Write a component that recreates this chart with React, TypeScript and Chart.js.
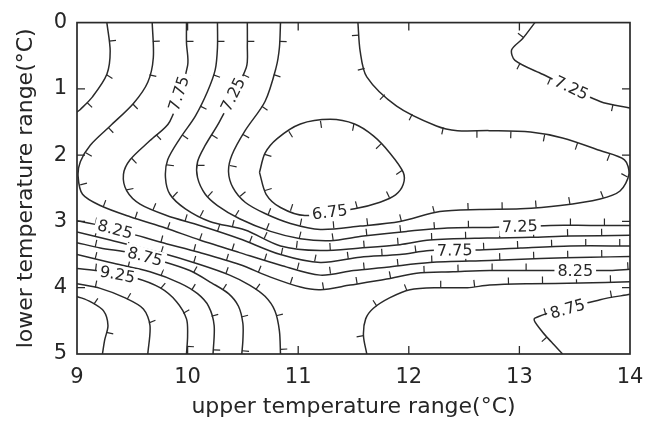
import React, { useEffect, useRef } from 'react';
import { Chart, registerables } from 'chart.js';

Chart.register(...registerables);

// ---------- data ----------
const xTickValues = [9, 10, 11, 12, 13, 14];
const yTickValues = [0, 1, 2, 3, 4, 5];
const xTitle = 'upper temperature range(°C)';
const yTitle = 'lower temperature range(°C)';

// contour lines: [upper temperature, lower temperature]
const top825 = [[9.27, 0], [9.30, 0.43], [9.27, 0.78], [9.14, 1.12], [9.03, 1.31], [9.0, 1.35]];
const nose800 = [[9.68, 0], [9.69, 0.53], [9.64, 0.9], [9.51, 1.22], [9.3, 1.56], [9.12, 1.85], [9.03, 2.1], [9.01, 2.32], [9.05, 2.59], [9.21, 2.76], [9.48, 2.93], [9.8, 3.1], [10.11, 3.28], [10.47, 3.47], [10.84, 3.66], [11.2, 3.81], [11.5, 3.74], [11.8, 3.69], [12.19, 3.62], [12.73, 3.59], [13.19, 3.56], [13.64, 3.54], [14, 3.53]];
const nose775 = [[9.99, 0], [9.99, 0.31], [10.0, 0.65], [9.84, 1.49], [9.66, 1.78], [9.48, 2.07], [9.42, 2.29], [9.45, 2.54], [9.57, 2.74], [9.81, 2.91], [10.11, 3.06], [10.47, 3.26], [10.84, 3.5], [11.2, 3.62], [11.56, 3.54], [11.92, 3.5], [12.19, 3.44], [12.64, 3.43], [13.01, 3.4], [13.46, 3.37], [14, 3.37]];
const nose750 = [[10.27, 0], [10.27, 0.38], [10.25, 0.71], [10.18, 1.04], [10.07, 1.41], [9.93, 1.75], [9.82, 2.07], [9.8, 2.34], [9.84, 2.59], [9.98, 2.81], [10.2, 3.0], [10.52, 3.13], [10.84, 3.37], [11.2, 3.44], [11.56, 3.4], [11.92, 3.35], [12.19, 3.28], [12.71, 3.25], [13.1, 3.24], [13.46, 3.22], [14, 3.21]];
const nose725 = [[10.54, 0], [10.54, 0.35], [10.53, 0.68], [10.29, 1.49], [10.16, 1.85], [10.09, 2.1], [10.09, 2.34], [10.16, 2.59], [10.27, 2.76], [10.47, 2.96], [10.75, 3.15], [11.02, 3.26], [11.29, 3.29], [11.59, 3.22], [11.98, 3.15], [12.35, 3.1], [12.73, 3.09], [13.28, 3.06], [13.64, 3.06], [14, 3.06]];
const channel700 = [[10.84, 0], [10.83, 0.38], [10.8, 0.68], [10.7, 1.19], [10.52, 1.63], [10.4, 2.0], [10.37, 2.25], [10.41, 2.49], [10.52, 2.71], [10.7, 2.88], [10.93, 3.03], [11.2, 3.12], [11.56, 3.07], [11.92, 3.0], [12.28, 2.85], [12.64, 2.82], [13.01, 2.81], [13.37, 2.76], [13.73, 2.66], [13.91, 2.54], [13.99, 2.29], [13.95, 2.07], [13.73, 1.93], [13.39, 1.74], [13.1, 1.65], [12.73, 1.63], [12.44, 1.63], [12.25, 1.56], [11.89, 1.26], [11.62, 0.82], [11.56, 0.43], [11.54, 0]];
const ring675 = [[10.65, 2.26], [10.7, 1.97], [10.81, 1.75], [11.02, 1.53], [11.29, 1.46], [11.51, 1.53], [11.68, 1.71], [11.83, 1.97], [11.95, 2.26], [11.95, 2.44], [11.88, 2.6], [11.74, 2.71], [11.51, 2.81], [11.06, 2.91], [10.84, 2.79], [10.71, 2.59], [10.65, 2.26]];
const band825 = [[9.0, 2.99], [9.21, 3.06], [9.48, 3.18], [9.75, 3.31], [10.11, 3.47], [10.47, 3.65], [10.75, 3.84], [11.02, 3.99], [11.2, 4.03], [11.47, 3.96], [11.8, 3.87], [12.07, 3.78], [12.4, 3.76], [12.73, 3.74], [13.19, 3.74], [13.82, 3.74], [14, 3.72]];
const left850 = [[9.0, 3.16], [9.3, 3.28], [9.75, 3.47], [10.11, 3.65], [10.38, 3.81], [10.56, 3.96], [10.7, 4.13], [10.79, 4.35], [10.83, 4.65], [10.84, 5]];
const right850 = [[11.62, 5], [11.59, 4.72], [11.61, 4.47], [11.68, 4.31], [11.83, 4.15], [12.01, 4.03], [12.28, 4.0], [12.53, 4.0], [12.73, 3.96], [13.1, 3.94], [13.55, 3.93], [14, 3.91]];
const left875 = [[9.0, 3.32], [9.21, 3.4], [9.48, 3.47], [9.75, 3.59], [10.02, 3.74], [10.22, 3.93], [10.37, 4.09], [10.46, 4.28], [10.5, 4.54], [10.5, 4.79], [10.49, 5]];
const right875 = [[14, 4.1], [13.73, 4.18], [13.14, 4.46], [13.2, 4.65], [13.29, 4.82], [13.39, 5]];
const arc900 = [[9.0, 3.5], [9.3, 3.62], [9.66, 3.76], [9.93, 3.93], [10.09, 4.09], [10.19, 4.28], [10.24, 4.57], [10.23, 5]];
const arc925 = [[9.0, 3.71], [9.21, 3.75], [9.52, 3.85], [9.75, 4.0], [9.9, 4.21], [9.99, 4.47], [10.0, 4.72], [9.99, 5]];
const arc950 = [[9.0, 3.94], [9.21, 4.01], [9.43, 4.15], [9.6, 4.32], [9.66, 4.57], [9.64, 5]];
const arc975 = [[9.0, 4.13], [9.12, 4.21], [9.24, 4.35], [9.28, 4.57], [9.25, 4.79], [9.23, 5]];
const corner725 = [[13.14, 0], [13.03, 0.24], [12.93, 0.41], [12.96, 0.57], [13.21, 0.78], [13.73, 1.19], [14, 1.29]];

const contourNames = ['top825', 'nose800', 'nose775', 'nose750', 'nose725', 'channel700', 'ring675', 'band825', 'left850', 'right850', 'left875', 'right875', 'arc900', 'arc925', 'arc950', 'arc975', 'corner725'];
const contourLevels = [8.25, 8.0, 7.75, 7.5, 7.25, 7.0, 6.75, 8.25, 8.5, 8.5, 8.75, 8.75, 9.0, 9.25, 9.5, 9.75, 7.25];
const contourPoints = [top825, nose800, nose775, nose750, nose725, channel700, ring675, band825, left850, right850, left875, right875, arc900, arc925, arc950, arc975, corner725];

// which contour / segment carries an inline level label
const labelContours = ['nose775', 'nose775', 'nose725', 'nose725', 'ring675', 'band825', 'band825', 'left875', 'arc925', 'right875', 'corner725'];
const labelSegments = [2, 16, 2, 16, 12, 1, 14, 2, 1, 1, 4];

// ---------- style ----------
const LINE_COLOR = '#2a2a2a';
const TEXT_COLOR = '#262626';
const FONT = '"DejaVu Sans", "Liberation Sans", sans-serif';
const TICK_SIDE: Record<string, number> = {
  top825: -1, nose800: -1, nose775: -1, nose750: -1, nose725: -1, channel700: -1,
  ring675: 1, band825: -1, left850: -1, right850: -1, left875: -1, right875: 1,
  arc900: -1, arc925: -1, arc950: -1, arc975: -1, corner725: 1,
};
const HATCH_SPACING = 34;
const HATCH_LEN = 7;
const LABEL_SIZE = 16;

const decorPlugin = {
  id: 'contourDecor',
  afterDatasetsDraw(chart: any) {
    const ctx = chart.ctx as CanvasRenderingContext2D;
    const xs = chart.scales.x;
    const ys = chart.scales.y;
    const a = chart.chartArea;
    const toPx = (p: number[]) => [xs.getPixelForValue(p[0]), ys.getPixelForValue(p[1])];

    ctx.save();
    ctx.beginPath();
    ctx.rect(a.left, a.top, a.right - a.left, a.bottom - a.top);
    ctx.clip();
    ctx.strokeStyle = LINE_COLOR;
    ctx.lineWidth = 1.2;
    contourNames.forEach((name, ci) => {
      const side = TICK_SIDE[name] || 1;
      const px = contourPoints[ci].map(toPx);
      let acc = 0;
      let next = HATCH_SPACING * 0.55;
      for (let i = 0; i < px.length - 1; i++) {
        const [x0, y0] = px[i];
        const [x1, y1] = px[i + 1];
        const L = Math.hypot(x1 - x0, y1 - y0);
        if (L === 0) continue;
        const tx = (x1 - x0) / L;
        const ty = (y1 - y0) / L;
        const nx = -ty * side;
        const ny = tx * side;
        while (next <= acc + L) {
          const f = (next - acc) / L;
          const bx = x0 + (x1 - x0) * f;
          const by = y0 + (y1 - y0) * f;
          ctx.beginPath();
          ctx.moveTo(bx, by);
          ctx.lineTo(bx + nx * HATCH_LEN, by + ny * HATCH_LEN);
          ctx.stroke();
          next += HATCH_SPACING;
        }
        acc += L;
      }
    });

    // inline labels
    ctx.font = `${LABEL_SIZE}px ${FONT}`;
    ctx.textAlign = 'center';
    ctx.textBaseline = 'middle';
    labelContours.forEach((name, li) => {
      const ci = contourNames.indexOf(name);
      const seg = labelSegments[li];
      const pts = contourPoints[ci];
      const [x0, y0] = toPx(pts[seg]);
      const [x1, y1] = toPx(pts[seg + 1]);
      let ang = Math.atan2(y1 - y0, x1 - x0);
      if (ang > Math.PI / 2) ang -= Math.PI;
      if (ang < -Math.PI / 2) ang += Math.PI;
      const text = contourLevels[ci].toFixed(2);
      const w = ctx.measureText(text).width;
      ctx.save();
      ctx.translate((x0 + x1) / 2, (y0 + y1) / 2);
      ctx.rotate(ang);
      ctx.fillStyle = '#ffffff';
      ctx.fillRect(-w / 2 - 3, -LABEL_SIZE * 0.55, w + 6, LABEL_SIZE * 1.1);
      ctx.fillStyle = TEXT_COLOR;
      ctx.fillText(text, 0, 1);
      ctx.restore();
    });
    ctx.restore();

    // frame and inward axis ticks
    ctx.save();
    ctx.strokeStyle = LINE_COLOR;
    ctx.lineWidth = 1.7;
    ctx.strokeRect(a.left, a.top, a.right - a.left, a.bottom - a.top);
    ctx.lineWidth = 1.3;
    const T = 8;
    xTickValues.slice(1, -1).forEach((v) => {
      const x = xs.getPixelForValue(v);
      ctx.beginPath();
      ctx.moveTo(x, a.bottom); ctx.lineTo(x, a.bottom - T);
      ctx.moveTo(x, a.top); ctx.lineTo(x, a.top + T);
      ctx.stroke();
    });
    yTickValues.slice(1, -1).forEach((v) => {
      const y = ys.getPixelForValue(v);
      ctx.beginPath();
      ctx.moveTo(a.left, y); ctx.lineTo(a.left + T, y);
      ctx.moveTo(a.right, y); ctx.lineTo(a.right - T, y);
      ctx.stroke();
    });
    ctx.restore();
  },
};

export default function App() {
  const ref = useRef<HTMLCanvasElement | null>(null);
  useEffect(() => {
    if (!ref.current) return;
    const datasets = contourNames.map((name, ci) => ({
      label: name,
      data: contourPoints[ci].map(([x, y]) => ({ x, y })),
      showLine: true,
      borderColor: LINE_COLOR,
      borderWidth: 1.5,
      pointRadius: 0,
      pointHoverRadius: 0,
      tension: 0.3,
      fill: false,
    }));
    const chart = new Chart(ref.current, {
      type: 'scatter',
      data: { datasets },
      options: {
        animation: false,
        responsive: false,
        devicePixelRatio: 1,
        events: [],
        layout: { padding: { top: 14, right: 31, bottom: 0, left: 0 } },
        plugins: { legend: { display: false }, tooltip: { enabled: false } },
        scales: {
          x: {
            type: 'linear',
            min: 9,
            max: 14,
            afterBuildTicks: (s: any) => { s.ticks = xTickValues.map((value) => ({ value })); },
            afterFit: (s: any) => { s.height = 67; },
            grid: { display: false, drawTicks: false },
            border: { display: false },
            ticks: { color: TEXT_COLOR, font: { family: FONT, size: 21 }, padding: 11, maxRotation: 0 },
            title: { display: true, text: xTitle, color: TEXT_COLOR, font: { family: FONT, size: 22 }, padding: { top: 0, bottom: 1 } },
          },
          y: {
            type: 'linear',
            min: 0,
            max: 5,
            reverse: true,
            afterBuildTicks: (s: any) => { s.ticks = yTickValues.map((value) => ({ value })); },
            afterFit: (s: any) => { s.width = 77; },
            grid: { display: false, drawTicks: false },
            border: { display: false },
            ticks: { color: TEXT_COLOR, font: { family: FONT, size: 21 }, padding: 10 },
            title: { display: true, text: yTitle, color: TEXT_COLOR, font: { family: FONT, size: 22 }, padding: { top: 13, bottom: 0 } },
          },
        },
      },
      plugins: [decorPlugin],
    } as any);
    return () => chart.destroy();
  }, []);
  return (
    <div style={{ position: 'absolute', left: 0, top: 0, width: 661, height: 421, background: '#fff' }}>
      <canvas ref={ref} width={661} height={421} style={{ display: 'block' }} />
    </div>
  );
}
